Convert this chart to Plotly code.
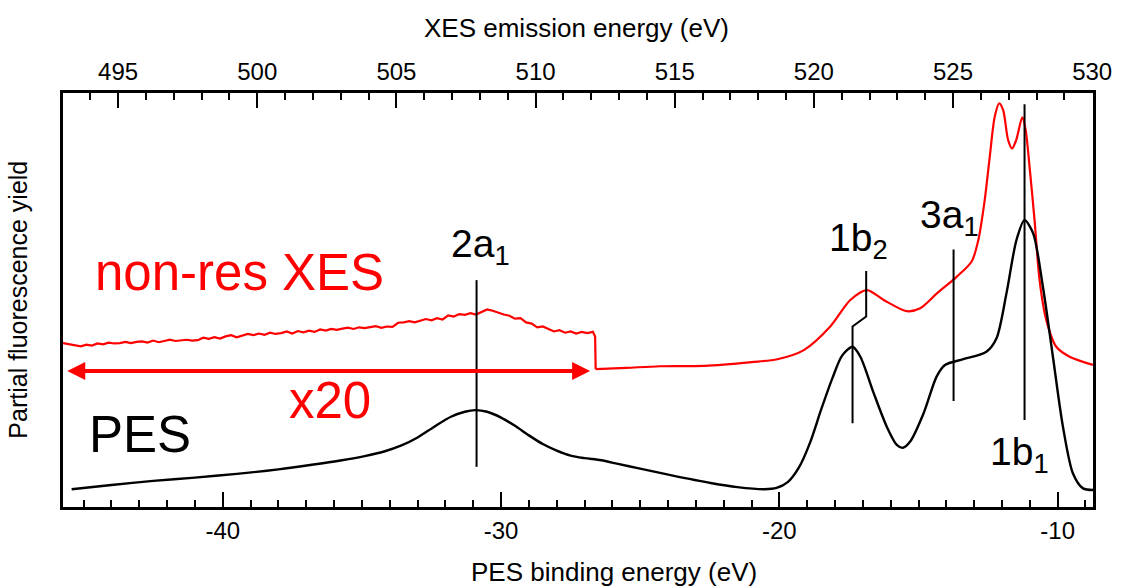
import plotly.graph_objects as go

# ---------------- data ----------------
# PES spectrum: binding energy (eV) vs intensity (arb. units)
PES_E = [-45.43, -44.0, -42.5, -41.0, -39.5, -38.0, -36.8, -35.72, -34.9, -34.2,
         -33.6, -33.0, -32.4, -31.8, -31.3, -30.92, -30.5, -30.0, -29.5, -29.0,
         -28.5, -28.0, -27.5, -27.0, -26.4, -25.8, -25.09, -23.91, -22.47, -21.51,
         -20.54, -20.1, -19.7, -19.3, -18.9, -18.5, -18.1, -17.75, -17.37, -17.09,
         -16.61, -16.14, -15.78, -15.56, -15.30, -14.82, -14.35, -14.05, -13.39, -12.56,
         -12.20, -11.84, -11.48, -11.19, -10.88, -10.53, -10.17, -9.81, -9.45, -9.09,
         -8.73]
PES_I = [4.3, 5.3, 6.3, 7.1, 8.0, 9.1, 10.2, 11.3, 12.3, 13.4,
         14.8, 16.8, 19.4, 21.8, 23.0, 23.4, 23.0, 21.6, 19.6, 17.3,
         15.2, 13.6, 12.4, 11.8, 11.3, 10.4, 9.4, 7.7, 5.8, 4.8,
         4.3, 4.6, 6.0, 9.5, 15.5, 23.5, 31.0, 36.5, 38.7, 36.3,
         27.5, 19.4, 15.0, 14.3, 15.8, 22.6, 31.5, 34.3, 35.7, 37.5,
         40.7, 51.6, 64.5, 69.3, 66.1, 53.2, 36.3, 19.4, 8.1, 4.5,
         4.1]

# non-resonant XES, magnified (x20) part - noisy
XES_X20_E = [-45.74, -45.5, -45.3, -45.1, -44.9, -44.7, -44.5, -44.3, -44.1, -43.9,
             -43.7, -43.5, -43.3, -43.1, -42.9, -42.7, -42.5, -42.3, -42.1, -41.9,
             -41.7, -41.5, -41.3, -41.1, -40.9, -40.7, -40.5, -40.3, -40.1, -39.9,
             -39.7, -39.5, -39.3, -39.1, -38.9, -38.7, -38.5, -38.3, -38.1, -37.9,
             -37.7, -37.5, -37.3, -37.1, -36.9, -36.7, -36.5, -36.3, -36.1, -35.9,
             -35.7, -35.5, -35.3, -35.1, -34.9, -34.7, -34.5, -34.3, -34.1, -33.9,
             -33.7, -33.5, -33.3, -33.1, -32.9, -32.7, -32.5, -32.3, -32.1, -31.9,
             -31.7, -31.5, -31.3, -31.1, -30.9, -30.7, -30.5, -30.3, -30.1, -29.9,
             -29.7, -29.5, -29.3, -29.1, -28.9, -28.7, -28.5, -28.3, -28.1, -27.9,
             -27.7, -27.5, -27.3, -27.1, -26.9, -26.7, -26.62, -26.60]
XES_X20_I = [39.6, 39.3, 39.0, 38.8, 39.2, 39.0, 39.5, 39.3, 39.7, 39.5,
             39.6, 39.9, 39.6, 39.9, 40.0, 39.7, 40.2, 39.8, 40.1, 40.4,
             40.1, 40.3, 40.4, 40.2, 40.3, 40.9, 40.6, 41.0, 40.7, 41.2,
             41.5, 41.0, 41.4, 41.8, 41.5, 41.9, 41.6, 42.1, 41.8, 42.0,
             42.4, 41.9, 42.5, 42.2, 42.6, 42.3, 42.9, 42.6, 43.0, 42.8,
             43.1, 43.3, 43.0, 43.4, 43.2, 43.5, 43.7, 43.3, 43.6, 43.5,
             44.5, 44.6, 44.9, 44.6, 45.0, 45.4, 45.1, 45.6, 45.3, 46.3,
             46.0, 46.6, 46.4, 46.8, 46.5, 47.2, 47.7, 47.4, 46.9, 46.5,
             46.2, 45.5, 45.6, 44.6, 44.3, 43.4, 43.6, 42.9, 42.4, 42.7,
             42.1, 42.4, 41.9, 42.3, 42.0, 42.3, 41.2, 33.3]

# non-resonant XES, unscaled part
XES_E = [-26.60, -25.5, -24.3, -22.7, -21.0, -20.07, -19.12, -18.17, -17.45, -16.85,
         -16.25, -15.42, -14.94, -14.34, -13.63, -13.09, -12.85, -12.62, -12.44, -12.26,
         -12.10, -11.96, -11.78, -11.64, -11.49, -11.27, -11.15, -11.01, -10.83, -10.65,
         -10.41, -10.05, -9.57, -8.73]
XES_I = [33.3, 33.6, 34.0, 34.1, 35.0, 35.7, 37.9, 43.6, 50.0, 52.4,
         50.0, 47.3, 48.0, 51.6, 55.6, 59.3, 64.5, 74.2, 84.6, 94.3,
         97.5, 95.9, 88.6, 86.6, 88.6, 94.1, 91.1, 82.2, 69.3, 54.8,
         45.2, 38.7, 36.3, 34.3]

# axes
PES_RANGE = [-45.74, -8.73]
XES_OFFSET = 538.76          # emission energy = binding energy + offset
Y_RANGE = [0, 100]
BOTTOM_TICKS = [-40, -30, -20, -10]
BOTTOM_TICK_TEXT = ["-40", "-30", "-20", "-10"]
TOP_TICKS = [495, 500, 505, 510, 515, 520, 525, 530]
TOP_TICK_TEXT = ["495", "500", "505", "510", "515", "520", "525", "530"]

# orbital marker lines (binding energy, intensity)
MARKERS = {
    "2a1": ([-30.88, -30.88], [9.7, 54.8]),
    "1b2": ([-17.37, -17.37, -16.88, -16.88], [20.2, 43.6, 46.0, 57.0]),
    "3a1": ([-13.74, -13.74], [25.6, 62.2]),
    "1b1": ([-11.19, -11.19], [21.0, 97.3]),
}
ORBITAL_LABELS = [
    ("2a<sub>1</sub>", -30.75, 56.6),
    ("1b<sub>2</sub>", -17.14, 58.0),
    ("3a<sub>1</sub>", -13.87, 63.6),
    ("1b<sub>1</sub>", -11.37, 6.2),
]
ARROW_E = [-45.64, -26.80]
ARROW_I = 32.85

FONT = "Liberation Sans, Arial, sans-serif"
RED = "#ff0000"

fig = go.Figure()

fig.add_trace(go.Scatter(x=XES_X20_E, y=XES_X20_I, mode="lines",
                         line=dict(color=RED, width=2.2), hoverinfo="skip", showlegend=False))
fig.add_trace(go.Scatter(x=XES_E, y=XES_I, mode="lines",
                         line=dict(color=RED, width=2.2, shape="spline", smoothing=0.8),
                         hoverinfo="skip", showlegend=False))
fig.add_trace(go.Scatter(x=PES_E, y=PES_I, mode="lines",
                         line=dict(color="black", width=2.4, shape="spline", smoothing=0.8),
                         hoverinfo="skip", showlegend=False))
for name, (mx, my) in MARKERS.items():
    fig.add_trace(go.Scatter(x=mx, y=my, mode="lines", line=dict(color="black", width=2),
                             hoverinfo="skip", showlegend=False))

# dummy trace that carries the top (emission energy) axis
fig.add_trace(go.Scatter(x=[PES_RANGE[0] + XES_OFFSET, PES_RANGE[1] + XES_OFFSET], y=[0, 0],
                         xaxis="x2", mode="markers", marker=dict(opacity=0),
                         hoverinfo="skip", showlegend=False))

axis_common = dict(showline=True, linewidth=3, linecolor="black", showgrid=False,
                   zeroline=False, ticks="inside", ticklen=15, tickwidth=2,
                   tickcolor="black", tickmode="array",
                   tickfont=dict(family=FONT, size=24, color="black"))

fig.update_layout(
    width=1124, height=588,
    margin=dict(l=63, r=27, t=93, b=81),
    paper_bgcolor="white", plot_bgcolor="white",
    font=dict(family=FONT, color="black"),
    xaxis=dict(range=PES_RANGE, tickvals=BOTTOM_TICKS, ticktext=BOTTOM_TICK_TEXT,
               minor=dict(ticks="inside", tickmode="linear", tick0=-40, dtick=1,
                          ticklen=7, tickwidth=2, tickcolor="black"),
               **axis_common),
    xaxis2=dict(range=[PES_RANGE[0] + XES_OFFSET, PES_RANGE[1] + XES_OFFSET],
                overlaying="x", side="top", anchor="y",
                tickvals=TOP_TICKS, ticktext=TOP_TICK_TEXT,
                minor=dict(ticks="inside", tickmode="linear", tick0=495, dtick=1,
                           ticklen=7, tickwidth=2, tickcolor="black"),
                **axis_common),
    yaxis=dict(range=Y_RANGE, showline=True, mirror=True, linewidth=3, linecolor="black",
               showgrid=False, zeroline=False, ticks="", showticklabels=False),
)

annotations = []
for text, x, y in ORBITAL_LABELS:
    annotations.append(dict(text=text, x=x, y=y, xref="x", yref="y", showarrow=False,
                            xanchor="center", yanchor="bottom",
                            font=dict(family=FONT, size=39, color="black")))
annotations += [
    dict(text="non-res XES", x=-44.65, y=56.7, xref="x", yref="y", showarrow=False,
         xanchor="left", yanchor="middle", font=dict(family=FONT, size=51, color=RED)),
    dict(text="x20", x=-37.68, y=25.7, xref="x", yref="y", showarrow=False,
         xanchor="left", yanchor="middle", font=dict(family=FONT, size=51, color=RED)),
    dict(text="PES", x=-44.87, y=17.6, xref="x", yref="y", showarrow=False,
         xanchor="left", yanchor="middle", font=dict(family=FONT, size=51, color="black")),
    # double-headed x20 arrow
    dict(text="", x=ARROW_E[1], y=ARROW_I, ax=ARROW_E[0], ay=ARROW_I,
         xref="x", yref="y", axref="x", ayref="y", showarrow=True,
         arrowside="end+start", arrowhead=2, startarrowhead=2,
         arrowsize=0.9, startarrowsize=0.9, arrowwidth=4, arrowcolor=RED),
    # axis titles
    dict(text="XES emission energy (eV)", x=0.499, y=1.157, xref="paper", yref="paper",
         showarrow=False, xanchor="center", yanchor="middle",
         font=dict(family=FONT, size=26, color="black")),
    dict(text="PES binding energy (eV)", x=0.535, y=-0.157, xref="paper", yref="paper",
         showarrow=False, xanchor="center", yanchor="middle",
         font=dict(family=FONT, size=26, color="black")),
    dict(text="Partial fluorescence yield", x=-0.044, y=0.5, xref="paper", yref="paper",
         showarrow=False, xanchor="center", yanchor="middle", textangle=-90,
         font=dict(family=FONT, size=25, color="black")),
]
fig.update_layout(annotations=annotations)

fig.write_html("out.html")
